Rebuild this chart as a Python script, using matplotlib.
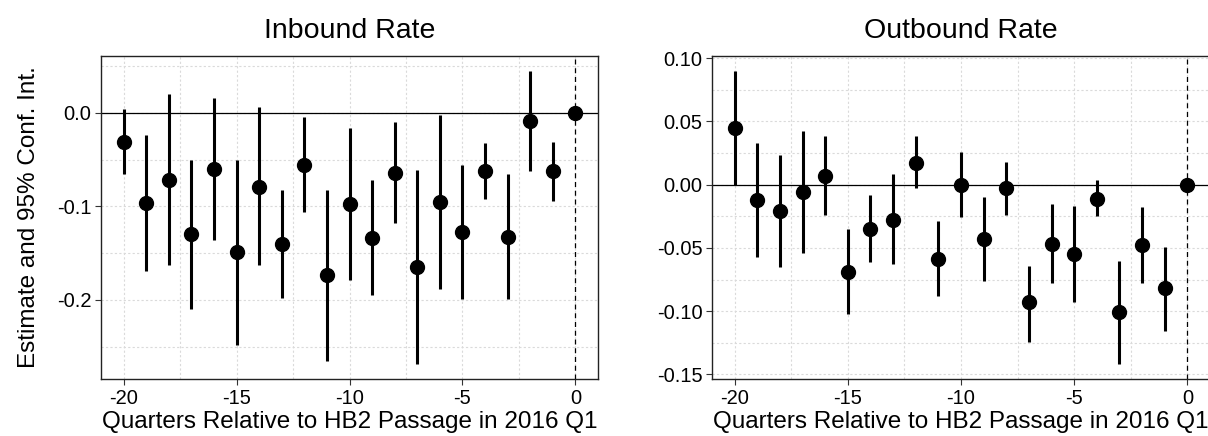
import numpy as np
import matplotlib
matplotlib.use("Agg")
import matplotlib.pyplot as plt
from matplotlib.ticker import MultipleLocator

plt.rcParams['font.family'] = ['Liberation Sans', 'DejaVu Sans']
plt.rcParams['axes.unicode_minus'] = False

# --- Datos ---
quarters = list(range(-20, 1))

inb_est = [-0.031, -0.097, -0.072, -0.130, -0.060, -0.149, -0.079, -0.140, -0.056, -0.174,
           -0.098, -0.134, -0.064, -0.165, -0.095, -0.128, -0.062, -0.133, -0.009, -0.062, 0.0]
inb_lo = [-0.066, -0.169, -0.163, -0.210, -0.136, -0.248, -0.163, -0.198, -0.106, -0.265,
          -0.179, -0.195, -0.118, -0.269, -0.188, -0.199, -0.092, -0.199, -0.062, -0.094, 0.0]
inb_hi = [0.004, -0.024, 0.020, -0.050, 0.016, -0.051, 0.006, -0.083, -0.005, -0.083,
          -0.016, -0.072, -0.010, -0.061, -0.002, -0.056, -0.032, -0.065, 0.045, -0.031, 0.0]

out_est = [0.045, -0.012, -0.021, -0.006, 0.007, -0.069, -0.035, -0.028, 0.017, -0.059,
           0.000, -0.043, -0.003, -0.093, -0.047, -0.055, -0.011, -0.101, -0.048, -0.082, 0.0]
out_lo = [0.000, -0.057, -0.065, -0.054, -0.024, -0.102, -0.061, -0.063, -0.003, -0.088,
          -0.026, -0.076, -0.024, -0.124, -0.078, -0.093, -0.025, -0.142, -0.078, -0.116, 0.0]
out_hi = [0.090, 0.033, 0.023, 0.042, 0.038, -0.035, -0.008, 0.008, 0.038, -0.029,
          0.026, -0.010, 0.018, -0.064, -0.015, -0.017, 0.004, -0.060, -0.018, -0.049, 0.0]

x_ticks = [-20, -15, -10, -5, 0]
x_label = "Quarters Relative to HB2 Passage in 2016 Q1"
y_label = "Estimate and 95% Conf. Int."

fig = plt.figure(figsize=(12.08, 4.36), dpi=100)
W, H = 1208, 436
ax1 = fig.add_axes([101 / W, 57 / H, 497 / W, 323 / H])
ax2 = fig.add_axes([712 / W, 57 / H, 498 / W, 323 / H])


def panel(ax, est, lo, hi, title, ystep, yminor, yfmt):
    x = np.array(quarters)
    est = np.array(est)
    lo = np.array(lo)
    hi = np.array(hi)
    ax.axhline(0, color='black', lw=0.9, zorder=2)
    ax.axvline(0, color='black', lw=0.9, ls=(0, (4, 3)), zorder=2)
    ax.vlines(x, lo, hi, color='black', lw=2.2, zorder=3)
    ax.plot(x, est, 'o', color='black', ms=10, zorder=4)

    ax.set_xlim(-21, 1)
    rng = max(hi.max(), est.max()) - min(lo.min(), est.min())
    ax.set_ylim(min(lo.min(), est.min()) - 0.05 * rng, max(hi.max(), est.max()) + 0.05 * rng)

    ax.set_xticks(x_ticks)
    ax.xaxis.set_minor_locator(MultipleLocator(2.5))
    ax.yaxis.set_major_locator(MultipleLocator(ystep))
    ax.yaxis.set_minor_locator(MultipleLocator(yminor))
    ax.yaxis.set_major_formatter(plt.FormatStrFormatter(yfmt))
    ax.grid(which='both', color='#dadada', ls=(0, (2, 2)), lw=0.8, zorder=0)
    ax.set_axisbelow(True)

    ax.tick_params(which='major', direction='out', length=4, width=0.8,
                   labelsize=14.5, color='#333333', labelcolor='black', pad=3)
    ax.tick_params(which='minor', length=0)
    for s in ax.spines.values():
        s.set_color('#222222')
        s.set_linewidth(1.0)

    ax.set_title(title, fontsize=20.5, pad=13)
    ax.set_xlabel(x_label, fontsize=17.5, labelpad=2)


panel(ax1, inb_est, inb_lo, inb_hi, "Inbound Rate", 0.1, 0.05, '%.1f')
panel(ax2, out_est, out_lo, out_hi, "Outbound Rate", 0.05, 0.025, '%.2f')
ax1.set_ylabel(y_label, fontsize=17.5, labelpad=12)

fig.savefig("out.png", dpi=100)
